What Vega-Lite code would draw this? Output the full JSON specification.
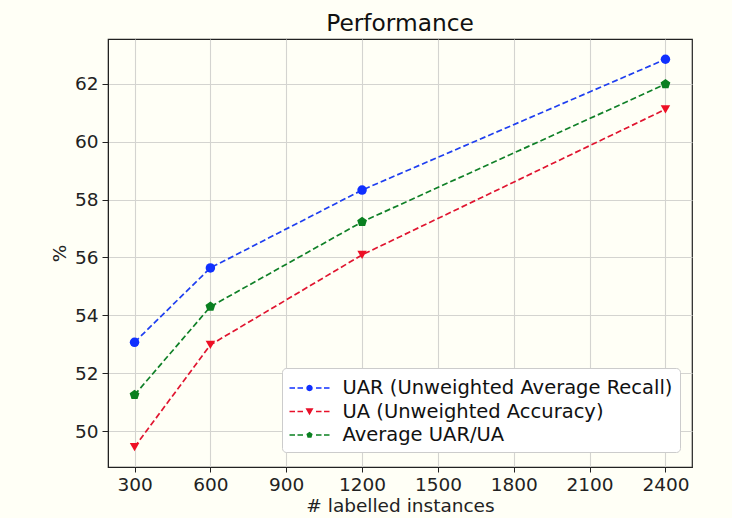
{
  "$schema": "https://vega.github.io/schema/vega-lite/v6.json",
  "width": 584,
  "height": 428,
  "autosize": "none",
  "padding": {"left": 108, "top": 39, "right": 40, "bottom": 51},
  "background": "#fffff6",
  "title": {"text": "Performance", "fontSize": 23.3, "font": "DejaVu Sans", "fontWeight": "normal", "color": "#111111", "offset": 3},
  "data": {"values": [
    {"series": "UAR (Unweighted Average Recall)", "x": 300, "y": 53.07},
    {"series": "UAR (Unweighted Average Recall)", "x": 600, "y": 55.64},
    {"series": "UAR (Unweighted Average Recall)", "x": 1200, "y": 58.33},
    {"series": "UAR (Unweighted Average Recall)", "x": 2400, "y": 62.85},
    {"series": "UA (Unweighted Accuracy)", "x": 300, "y": 49.45},
    {"series": "UA (Unweighted Accuracy)", "x": 600, "y": 52.98},
    {"series": "UA (Unweighted Accuracy)", "x": 1200, "y": 56.09},
    {"series": "UA (Unweighted Accuracy)", "x": 2400, "y": 61.12},
    {"series": "Average UAR/UA", "x": 300, "y": 51.25},
    {"series": "Average UAR/UA", "x": 600, "y": 54.30},
    {"series": "Average UAR/UA", "x": 1200, "y": 57.23},
    {"series": "Average UAR/UA", "x": 2400, "y": 61.99}
  ]},
  "encoding": {
    "x": {"field": "x", "type": "quantitative", "title": "# labelled instances",
      "scale": {"domain": [195, 2505], "nice": false, "zero": false},
      "axis": {"values": [300, 600, 900, 1200, 1500, 1800, 2100, 2400], "format": "d"}},
    "y": {"field": "y", "type": "quantitative", "title": "%",
      "scale": {"domain": [48.76, 63.55], "nice": false, "zero": false},
      "axis": {"values": [50, 52, 54, 56, 58, 60, 62], "format": "d"}}
  },
  "layer": [
    {
      "transform": [{"filter": "datum.series === 'UAR (Unweighted Average Recall)'"}],
      "mark": {"type": "line", "strokeDash": [6, 3], "strokeWidth": 1.7, "color": "#1f3ff0"},
      "encoding": {}
    },
    {
      "transform": [{"filter": "datum.series === 'UA (Unweighted Accuracy)'"}],
      "mark": {"type": "line", "strokeDash": [6, 3], "strokeWidth": 1.7, "color": "#e01530"},
      "encoding": {}
    },
    {
      "transform": [{"filter": "datum.series === 'Average UAR/UA'"}],
      "mark": {"type": "line", "strokeDash": [6, 3], "strokeWidth": 1.7, "color": "#108028"},
      "encoding": {}
    },
    {
      "transform": [{"filter": "datum.series === 'UAR (Unweighted Average Recall)'"}],
      "mark": {"type": "point", "filled": true, "opacity": 1, "size": 90, "shape": "circle", "color": "#1030ff"}
    },
    {
      "transform": [{"filter": "datum.series === 'UA (Unweighted Accuracy)'"}],
      "mark": {"type": "point", "filled": true, "opacity": 1, "size": 90, "shape": "triangle-down", "color": "#ee1025"}
    },
    {
      "transform": [{"filter": "datum.series === 'Average UAR/UA'"}],
      "mark": {"type": "point", "filled": true, "opacity": 1, "size": 80, "shape": "M0,-1.15L1.094,-0.355L0.676,0.93L-0.676,0.93L-1.094,-0.355Z", "color": "#0a8020"}
    },
    {
      "transform": [{"filter": "false"}],
      "mark": {"type": "point", "filled": true, "opacity": 1, "size": 625},
      "encoding": {
        "color": {"field": "series", "type": "nominal",
          "scale": {"domain": ["UAR (Unweighted Average Recall)", "UA (Unweighted Accuracy)", "Average UAR/UA"], "range": ["#1030ff", "#e8102a", "#0a8020"]},
          "legend": {
            "title": null,
            "orient": "none",
            "legendX": 174,
            "legendY": 329,
            "symbolSize": 625,
            "symbolOpacity": 1,
            "symbolStrokeWidth": 0,
            "labelFontSize": 19.5,
            "labelFont": "DejaVu Sans",
            "labelColor": "#111111",
            "labelOffset": 28,
            "labelLimit": 500,
            "rowPadding": 1.5,
            "padding": 7.5,
            "fillColor": "#ffffff",
            "strokeColor": "#cccccc",
            "cornerRadius": 4
          }},
        "shape": {"field": "series", "type": "nominal",
          "scale": {"domain": ["UAR (Unweighted Average Recall)", "UA (Unweighted Accuracy)", "Average UAR/UA"],
            "range": [
              "M-1,-0.06H-0.56V0.06H-1ZM-0.36,-0.06H0.08V0.06H-0.36ZM1.12,-0.06H1.56V0.06H1.12ZM1.76,-0.06H2.2V0.06H1.76ZM0.86,0L0.825,0.13L0.73,0.225L0.6,0.26L0.47,0.225L0.375,0.13L0.34,0L0.375,-0.13L0.47,-0.225L0.6,-0.26L0.73,-0.225L0.825,-0.13Z",
              "M-1,-0.06H-0.56V0.06H-1ZM-0.36,-0.06H0.08V0.06H-0.36ZM1.12,-0.06H1.56V0.06H1.12ZM1.76,-0.06H2.2V0.06H1.76ZM0.28,-0.26L0.92,-0.26L0.6,0.3Z",
              "M-1,-0.06H-0.56V0.06H-1ZM-0.36,-0.06H0.08V0.06H-0.36ZM1.12,-0.06H1.56V0.06H1.12ZM1.76,-0.06H2.2V0.06H1.76ZM0.6,-0.264L0.851,-0.082L0.755,0.214L0.445,0.214L0.349,-0.082Z"
            ]}}
      }
    }
  ],
  "config": {
    "view": {"stroke": "#222222", "strokeWidth": 1.2, "fill": "#fffff6"},
    "axis": {
      "labelFont": "DejaVu Sans", "titleFont": "DejaVu Sans",
      "labelFontSize": 18.5, "titleFontSize": 18.5, "titleFontWeight": "normal",
      "labelColor": "#222222", "titleColor": "#222222",
      "domainColor": "#222222", "tickColor": "#222222", "tickSize": 5,
      "gridColor": "#d4d4d0", "gridWidth": 1.1, "grid": true
    },
    "axisX": {"labelPadding": 3, "titlePadding": 3},
    "axisY": {"labelPadding": 4, "titlePadding": 5, "tickSize": 6}
  }
}
